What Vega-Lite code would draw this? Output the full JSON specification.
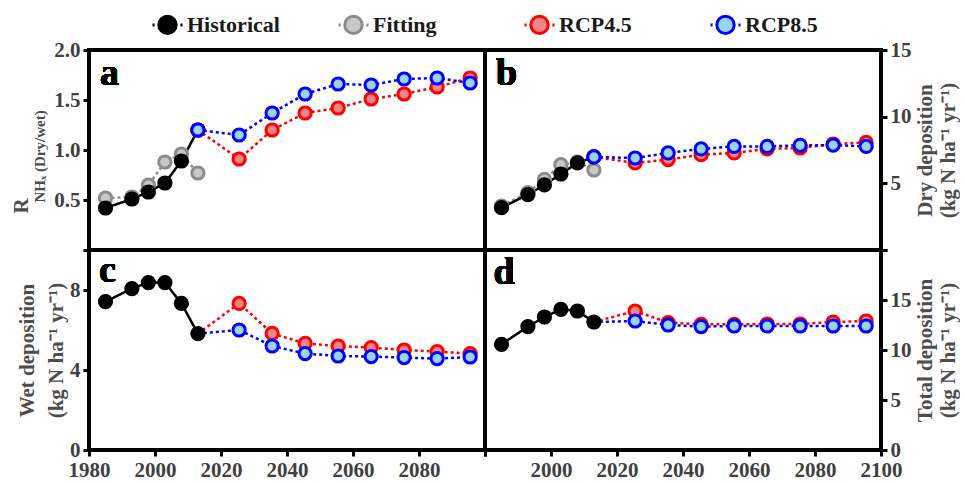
{
  "$schema": "https://vega.github.io/schema/vega-lite/v6.json",
  "padding": {"left": 8, "top": 8, "right": 0, "bottom": 0},
  "bounds": "flush",
  "datasets": {
    "rows": [
      {"panel": "a", "series": "Fitting", "year": 1985, "value": 0.52},
      {"panel": "a", "series": "Fitting", "year": 1993, "value": 0.53},
      {"panel": "a", "series": "Fitting", "year": 1998, "value": 0.65},
      {"panel": "a", "series": "Fitting", "year": 2003, "value": 0.88},
      {"panel": "a", "series": "Fitting", "year": 2008, "value": 0.96},
      {"panel": "a", "series": "Fitting", "year": 2013, "value": 0.77},
      {"panel": "a", "series": "Historical", "year": 1985, "value": 0.42},
      {"panel": "a", "series": "Historical", "year": 1993, "value": 0.51},
      {"panel": "a", "series": "Historical", "year": 1998, "value": 0.58},
      {"panel": "a", "series": "Historical", "year": 2003, "value": 0.67},
      {"panel": "a", "series": "Historical", "year": 2008, "value": 0.89},
      {"panel": "a", "series": "Historical", "year": 2013, "value": 1.2},
      {"panel": "a", "series": "RCP4.5", "year": 2013, "value": 1.2},
      {"panel": "a", "series": "RCP4.5", "year": 2025.5, "value": 0.91},
      {"panel": "a", "series": "RCP4.5", "year": 2035.5, "value": 1.2},
      {"panel": "a", "series": "RCP4.5", "year": 2045.5, "value": 1.37},
      {"panel": "a", "series": "RCP4.5", "year": 2055.5, "value": 1.42},
      {"panel": "a", "series": "RCP4.5", "year": 2065.5, "value": 1.51},
      {"panel": "a", "series": "RCP4.5", "year": 2075.5, "value": 1.56},
      {"panel": "a", "series": "RCP4.5", "year": 2085.5, "value": 1.63},
      {"panel": "a", "series": "RCP4.5", "year": 2095.5, "value": 1.72},
      {"panel": "a", "series": "RCP8.5", "year": 2013, "value": 1.2},
      {"panel": "a", "series": "RCP8.5", "year": 2025.5, "value": 1.15},
      {"panel": "a", "series": "RCP8.5", "year": 2035.5, "value": 1.37},
      {"panel": "a", "series": "RCP8.5", "year": 2045.5, "value": 1.56},
      {"panel": "a", "series": "RCP8.5", "year": 2055.5, "value": 1.66},
      {"panel": "a", "series": "RCP8.5", "year": 2065.5, "value": 1.65},
      {"panel": "a", "series": "RCP8.5", "year": 2075.5, "value": 1.71},
      {"panel": "a", "series": "RCP8.5", "year": 2085.5, "value": 1.72},
      {"panel": "a", "series": "RCP8.5", "year": 2095.5, "value": 1.67},

      {"panel": "b", "series": "Fitting", "year": 1985, "value": 3.3},
      {"panel": "b", "series": "Fitting", "year": 1993, "value": 4.3},
      {"panel": "b", "series": "Fitting", "year": 1998, "value": 5.3},
      {"panel": "b", "series": "Fitting", "year": 2003, "value": 6.4},
      {"panel": "b", "series": "Fitting", "year": 2008, "value": 6.6},
      {"panel": "b", "series": "Fitting", "year": 2013, "value": 6.0},
      {"panel": "b", "series": "Historical", "year": 1985, "value": 3.17},
      {"panel": "b", "series": "Historical", "year": 1993, "value": 4.16},
      {"panel": "b", "series": "Historical", "year": 1998, "value": 4.88},
      {"panel": "b", "series": "Historical", "year": 2003, "value": 5.7},
      {"panel": "b", "series": "Historical", "year": 2008, "value": 6.53},
      {"panel": "b", "series": "Historical", "year": 2013, "value": 6.98},
      {"panel": "b", "series": "RCP4.5", "year": 2013, "value": 6.98},
      {"panel": "b", "series": "RCP4.5", "year": 2025.5, "value": 6.53},
      {"panel": "b", "series": "RCP4.5", "year": 2035.5, "value": 6.78},
      {"panel": "b", "series": "RCP4.5", "year": 2045.5, "value": 7.15},
      {"panel": "b", "series": "RCP4.5", "year": 2055.5, "value": 7.28},
      {"panel": "b", "series": "RCP4.5", "year": 2065.5, "value": 7.58},
      {"panel": "b", "series": "RCP4.5", "year": 2075.5, "value": 7.65},
      {"panel": "b", "series": "RCP4.5", "year": 2085.5, "value": 7.95},
      {"panel": "b", "series": "RCP4.5", "year": 2095.5, "value": 8.07},
      {"panel": "b", "series": "RCP8.5", "year": 2013, "value": 6.98},
      {"panel": "b", "series": "RCP8.5", "year": 2025.5, "value": 6.9},
      {"panel": "b", "series": "RCP8.5", "year": 2035.5, "value": 7.28},
      {"panel": "b", "series": "RCP8.5", "year": 2045.5, "value": 7.58},
      {"panel": "b", "series": "RCP8.5", "year": 2055.5, "value": 7.77},
      {"panel": "b", "series": "RCP8.5", "year": 2065.5, "value": 7.77},
      {"panel": "b", "series": "RCP8.5", "year": 2075.5, "value": 7.85},
      {"panel": "b", "series": "RCP8.5", "year": 2085.5, "value": 7.87},
      {"panel": "b", "series": "RCP8.5", "year": 2095.5, "value": 7.77},

      {"panel": "c", "series": "Historical", "year": 1985, "value": 7.42},
      {"panel": "c", "series": "Historical", "year": 1993, "value": 8.07},
      {"panel": "c", "series": "Historical", "year": 1998, "value": 8.37},
      {"panel": "c", "series": "Historical", "year": 2003, "value": 8.37},
      {"panel": "c", "series": "Historical", "year": 2008, "value": 7.33},
      {"panel": "c", "series": "Historical", "year": 2013, "value": 5.82},
      {"panel": "c", "series": "RCP4.5", "year": 2013, "value": 5.82},
      {"panel": "c", "series": "RCP4.5", "year": 2025.5, "value": 7.33},
      {"panel": "c", "series": "RCP4.5", "year": 2035.5, "value": 5.83},
      {"panel": "c", "series": "RCP4.5", "year": 2045.5, "value": 5.33},
      {"panel": "c", "series": "RCP4.5", "year": 2055.5, "value": 5.2},
      {"panel": "c", "series": "RCP4.5", "year": 2065.5, "value": 5.12},
      {"panel": "c", "series": "RCP4.5", "year": 2075.5, "value": 5.0},
      {"panel": "c", "series": "RCP4.5", "year": 2085.5, "value": 4.92},
      {"panel": "c", "series": "RCP4.5", "year": 2095.5, "value": 4.82},
      {"panel": "c", "series": "RCP8.5", "year": 2013, "value": 5.82},
      {"panel": "c", "series": "RCP8.5", "year": 2025.5, "value": 6.0},
      {"panel": "c", "series": "RCP8.5", "year": 2035.5, "value": 5.2},
      {"panel": "c", "series": "RCP8.5", "year": 2045.5, "value": 4.82},
      {"panel": "c", "series": "RCP8.5", "year": 2055.5, "value": 4.7},
      {"panel": "c", "series": "RCP8.5", "year": 2065.5, "value": 4.67},
      {"panel": "c", "series": "RCP8.5", "year": 2075.5, "value": 4.62},
      {"panel": "c", "series": "RCP8.5", "year": 2085.5, "value": 4.57},
      {"panel": "c", "series": "RCP8.5", "year": 2095.5, "value": 4.65},

      {"panel": "d", "series": "Historical", "year": 1985, "value": 10.57},
      {"panel": "d", "series": "Historical", "year": 1993, "value": 12.34},
      {"panel": "d", "series": "Historical", "year": 1998, "value": 13.3},
      {"panel": "d", "series": "Historical", "year": 2003, "value": 14.07},
      {"panel": "d", "series": "Historical", "year": 2008, "value": 13.9},
      {"panel": "d", "series": "Historical", "year": 2013, "value": 12.8},
      {"panel": "d", "series": "RCP4.5", "year": 2013, "value": 12.8},
      {"panel": "d", "series": "RCP4.5", "year": 2025.5, "value": 13.9},
      {"panel": "d", "series": "RCP4.5", "year": 2035.5, "value": 12.74},
      {"panel": "d", "series": "RCP4.5", "year": 2045.5, "value": 12.57},
      {"panel": "d", "series": "RCP4.5", "year": 2055.5, "value": 12.57},
      {"panel": "d", "series": "RCP4.5", "year": 2065.5, "value": 12.6},
      {"panel": "d", "series": "RCP4.5", "year": 2075.5, "value": 12.6},
      {"panel": "d", "series": "RCP4.5", "year": 2085.5, "value": 12.8},
      {"panel": "d", "series": "RCP4.5", "year": 2095.5, "value": 12.9},
      {"panel": "d", "series": "RCP8.5", "year": 2013, "value": 12.8},
      {"panel": "d", "series": "RCP8.5", "year": 2025.5, "value": 12.9},
      {"panel": "d", "series": "RCP8.5", "year": 2035.5, "value": 12.5},
      {"panel": "d", "series": "RCP8.5", "year": 2045.5, "value": 12.34},
      {"panel": "d", "series": "RCP8.5", "year": 2055.5, "value": 12.4},
      {"panel": "d", "series": "RCP8.5", "year": 2065.5, "value": 12.4},
      {"panel": "d", "series": "RCP8.5", "year": 2075.5, "value": 12.4},
      {"panel": "d", "series": "RCP8.5", "year": 2085.5, "value": 12.4},
      {"panel": "d", "series": "RCP8.5", "year": 2095.5, "value": 12.4}
    ]
  },
  "columns": 2,
  "spacing": 0,
  "concat": [
    {
      "width": 396, "height": 200,
      "data": {"name": "rows"},
      "transform": [{"filter": "datum.panel === 'a'"}],
      "resolve": {"scale": {"y": "independent"}, "axis": {"y": "independent"}},
      "layer": [
        {
          "mark": {"type": "line", "strokeWidth": 2.5, "strokeCap": "butt"},
          "encoding": {
            "x": {"field": "year", "type": "quantitative", "scale": {"domain": [1980, 2100], "nice": false, "zero": false}, "axis": null},
            "y": {"field": "value", "type": "quantitative", "scale": {"domain": [0, 2], "nice": false, "zero": false},
                  "axis": {"orient": "left", "title": "R", "labels": false, "ticks": false, "domain": false, "titleAngle": -90, "titleAlign": "left", "titleY": 163, "titlePadding": 2, "offset": 56}},
            "stroke": {"field": "series", "type": "nominal", "scale": {"domain": ["Historical", "Fitting", "RCP4.5", "RCP8.5"], "range": ["#000000", "#8c8c8c", "#ff0000", "#0000ff"]}},
            "strokeDash": {"field": "series", "type": "nominal", "scale": {"domain": ["Fitting", "Historical", "RCP4.5", "RCP8.5"], "range": [[3, 3], [1, 0], [3, 3], [3, 3]]}, "legend": null}
          }
        },
        {
          "mark": {"type": "point", "shape": "circle", "size": 150, "strokeWidth": 3, "opacity": 1, "fillOpacity": 1},
          "encoding": {
            "x": {"field": "year", "type": "quantitative"},
            "y": {"field": "value", "type": "quantitative", "scale": {"domain": [0, 2], "nice": false, "zero": false}, "axis": null},
            "fill": {"field": "series", "type": "nominal", "scale": {"domain": ["Historical", "Fitting", "RCP4.5", "RCP8.5"], "range": ["#000000", "#c8c8c8", "#f58484", "#99d3fb"]},
              "legend": {"orient": "none", "legendX": 62, "legendY": -42, "direction": "horizontal", "title": null, "gridAlign": "all", "columnPadding": 52,
                "symbolType": "M-1,0H-0.86M0.86,0H1M-0.58,0A0.58,0.58 0 1 1 0.58,0A0.58,0.58 0 1 1 -0.58,0Z",
                "symbolSize": 900, "symbolStrokeWidth": 3, "symbolOpacity": 1, "labelFont": "Liberation Serif", "labelFontWeight": "bold", "labelFontSize": 22, "labelColor": "#1a1a1a", "labelOffset": 3}},
            "stroke": {"field": "series", "type": "nominal"}
          }
        },
        {
          "mark": {"type": "text", "font": "Liberation Serif", "fontWeight": "bold", "fontSize": 38, "align": "left", "baseline": "alphabetic", "color": "black"},
          "encoding": {
            "x": {"datum": 1983.3, "type": "quantitative"},
            "y": {"datum": 1.65, "type": "quantitative", "scale": {"domain": [0, 2], "nice": false, "zero": false},
                  "axis": {"orient": "left", "values": [0, 0.5, 1, 1.5, 2], "format": ".1f", "labelExpr": "datum.value == 0 ? '' : datum.label",
                           "title": "NHₓ (Dry/wet)", "titleFontSize": 15, "titleAngle": -90, "titleAlign": "left", "titleY": 152, "titlePadding": 6}},
            "text": {"value": "a"}
          }
        }
      ]
    },
    {
      "width": 396, "height": 200,
      "data": {"name": "rows"},
      "transform": [{"filter": "datum.panel === 'b'"}],
      "layer": [
        {
          "mark": {"type": "line", "strokeWidth": 2.5, "strokeCap": "butt"},
          "encoding": {
            "x": {"field": "year", "type": "quantitative", "scale": {"domain": [1980, 2100], "nice": false, "zero": false}, "axis": null},
            "y": {"field": "value", "type": "quantitative", "scale": {"domain": [0, 15], "nice": false, "zero": false},
                  "axis": {"orient": "right", "values": [0, 5, 10, 15], "labelExpr": "datum.value == 0 ? '' : datum.label",
                           "title": ["Dry deposition", "(kg N ha⁻¹ yr⁻¹)"], "titleAngle": -90, "titlePadding": 1, "titleLineHeight": 23}},
            "stroke": {"field": "series", "type": "nominal"},
            "strokeDash": {"field": "series", "type": "nominal", "legend": null}
          }
        },
        {
          "mark": {"type": "point", "shape": "circle", "size": 150, "strokeWidth": 3, "opacity": 1, "fillOpacity": 1},
          "encoding": {
            "x": {"field": "year", "type": "quantitative"},
            "y": {"field": "value", "type": "quantitative"},
            "fill": {"field": "series", "type": "nominal"},
            "stroke": {"field": "series", "type": "nominal"}
          }
        },
        {
          "mark": {"type": "text", "font": "Liberation Serif", "fontWeight": "bold", "fontSize": 38, "align": "left", "baseline": "alphabetic", "color": "black"},
          "encoding": {
            "x": {"datum": 1983.3, "type": "quantitative"},
            "y": {"datum": 12.38, "type": "quantitative"},
            "text": {"value": "b"}
          }
        }
      ]
    },
    {
      "width": 396, "height": 200,
      "data": {"name": "rows"},
      "transform": [{"filter": "datum.panel === 'c'"}],
      "layer": [
        {
          "mark": {"type": "line", "strokeWidth": 2.5, "strokeCap": "butt"},
          "encoding": {
            "x": {"field": "year", "type": "quantitative", "scale": {"domain": [1980, 2100], "nice": false, "zero": false},
                  "axis": {"values": [1980, 2000, 2020, 2040, 2060, 2080, 2100], "format": "d", "labelExpr": "datum.value == 2100 ? '' : datum.label", "title": null}},
            "y": {"field": "value", "type": "quantitative", "scale": {"domain": [0, 10], "nice": false, "zero": false},
                  "axis": {"orient": "left", "values": [0, 2, 4, 6, 8, 10], "labelExpr": "datum.value == 10 ? '' : datum.label",
                           "title": ["Wet deposition", "(kg N ha⁻¹ yr⁻¹)"], "titlePadding": 3, "titleLineHeight": 29}},
            "stroke": {"field": "series", "type": "nominal"},
            "strokeDash": {"field": "series", "type": "nominal", "legend": null}
          }
        },
        {
          "transform": [{"filter": "!(datum.year == 2013 && datum.series !== 'Historical')"}],
          "mark": {"type": "point", "shape": "circle", "size": 150, "strokeWidth": 3, "opacity": 1, "fillOpacity": 1},
          "encoding": {
            "x": {"field": "year", "type": "quantitative"},
            "y": {"field": "value", "type": "quantitative"},
            "fill": {"field": "series", "type": "nominal"},
            "stroke": {"field": "series", "type": "nominal"}
          }
        },
        {
          "mark": {"type": "text", "font": "Liberation Serif", "fontWeight": "bold", "fontSize": 38, "align": "left", "baseline": "alphabetic", "color": "black"},
          "encoding": {
            "x": {"datum": 1983, "type": "quantitative"},
            "y": {"datum": 8.4, "type": "quantitative"},
            "text": {"value": "c"}
          }
        }
      ]
    },
    {
      "width": 396, "height": 200,
      "data": {"name": "rows"},
      "transform": [{"filter": "datum.panel === 'd'"}],
      "layer": [
        {
          "mark": {"type": "line", "strokeWidth": 2.5, "strokeCap": "butt"},
          "encoding": {
            "x": {"field": "year", "type": "quantitative", "scale": {"domain": [1980, 2100], "nice": false, "zero": false},
                  "axis": {"values": [1980, 2000, 2020, 2040, 2060, 2080, 2100], "format": "d", "labelExpr": "datum.value == 1980 ? '' : datum.label", "title": null}},
            "y": {"field": "value", "type": "quantitative", "scale": {"domain": [0, 20], "nice": false, "zero": false},
                  "axis": {"orient": "right", "values": [0, 5, 10, 15, 20], "labelExpr": "datum.value == 20 ? '' : datum.label",
                           "title": ["Total deposition", "(kg N ha⁻¹ yr⁻¹)"], "titleAngle": -90, "titlePadding": 1, "titleLineHeight": 23}},
            "stroke": {"field": "series", "type": "nominal"},
            "strokeDash": {"field": "series", "type": "nominal", "legend": null}
          }
        },
        {
          "transform": [{"filter": "!(datum.year == 2013 && datum.series !== 'Historical')"}],
          "mark": {"type": "point", "shape": "circle", "size": 150, "strokeWidth": 3, "opacity": 1, "fillOpacity": 1},
          "encoding": {
            "x": {"field": "year", "type": "quantitative"},
            "y": {"field": "value", "type": "quantitative"},
            "fill": {"field": "series", "type": "nominal"},
            "stroke": {"field": "series", "type": "nominal"}
          }
        },
        {
          "mark": {"type": "text", "font": "Liberation Serif", "fontWeight": "bold", "fontSize": 38, "align": "left", "baseline": "alphabetic", "color": "black"},
          "encoding": {
            "x": {"datum": 1982.6, "type": "quantitative"},
            "y": {"datum": 16.6, "type": "quantitative"},
            "text": {"value": "d"}
          }
        }
      ]
    }
  ],
  "config": {
    "font": "Liberation Serif",
    "view": {"stroke": "#000000", "strokeWidth": 4},
    "axis": {"domain": false, "grid": false, "tickColor": "#000000", "tickWidth": 3, "tickSize": 6,
             "labelFont": "Liberation Serif", "labelFontWeight": "bold", "labelFontSize": 21, "labelColor": "#404040", "labelPadding": 3,
             "labelBound": false, "labelOverlap": false, "labelFlush": false,
             "titleFont": "Liberation Serif", "titleFontWeight": "bold", "titleFontSize": 21, "titleColor": "#4d4d4d"}
  }
}
